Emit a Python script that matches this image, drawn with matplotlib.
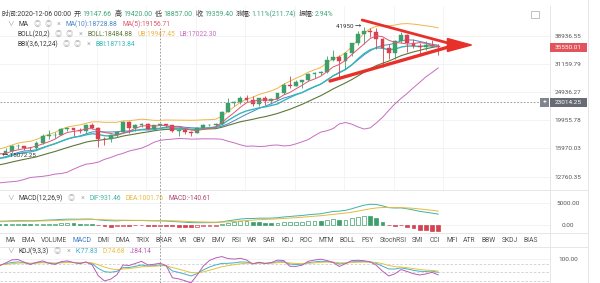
import numpy as np
import pandas as pd
import matplotlib
matplotlib.use('Agg')
import matplotlib.pyplot as plt
from matplotlib.patches import Rectangle, Polygon
from matplotlib.lines import Line2D
from matplotlib.transforms import IdentityTransform
from matplotlib.ticker import NullLocator, NullFormatter

FONTS = ['Roboto', 'Noto Sans CJK SC', 'DejaVu Sans']
plt.rcParams['font.family'] = FONTS

# BTC/USDT daily candles 2020-10-12 .. 2021-01-20
# (rows before 2020-11-10 are only there to warm up the indicators)
dates = pd.date_range('2020-10-12', '2021-01-20', freq='D')
opens = [11384, 11541, 11425, 11430, 11503, 11322, 11359, 11483, 11742, 11916,
         12823, 12965, 12931, 13108, 13031, 13068, 13654, 13272, 13455, 13560,
         13791, 13761, 13549, 14023, 14145, 15591, 15579, 14818, 15475, 15328,
         15297, 15701, 16276, 16317, 16069, 15957, 16713, 17659, 17777, 17802,
         18655, 18703, 18414, 18364, 19160, 18726.8, 17149, 17139, 17720, 18185.24,
         19696, 18765, 19204.5, 19422, 18650, 19147.66, 19359.4, 19167, 18325, 18541,
         18254, 18036, 18808, 19175, 19274, 19427, 21380, 22847, 23137, 23869,
         23477, 22748, 23824, 23253, 23715, 24693, 26443, 26247, 27036, 27376,
         28857, 28923, 29332, 32176, 33000, 31989, 33949, 36769, 39432, 40586,
         40088, 38150, 35410, 34050, 37372, 39141, 36733, 36012, 35548, 36250,
         36025]
highs = [11720, 11557, 11545, 11630, 11541, 11400, 11490, 11830, 12050, 13217,
         13185, 13027, 13166, 13350, 13248, 13789, 13859, 13640, 13695, 14100,
         13895, 13830, 14066, 14259, 15750, 15965, 15770, 15650, 15840, 15480,
         15965, 16340, 16480, 16317, 16146, 16895, 17858, 18476, 18179, 18815,
         18965, 18710, 18750, 19418, 19484, 18915, 17457, 17880, 18344, 19863,
         19888, 19342, 19566, 19527, 19177, 19420.0, 19420, 19294, 18640, 18557,
         18292, 18948, 19411, 19349, 19570, 21560, 23800, 23285, 24171, 24295,
         24102, 23837, 24100, 23789, 24789, 26867, 28422, 27500, 27411, 28999,
         29300, 29600, 33300, 34778, 33600, 34360, 36939, 40365, 41950, 41380,
         41350, 38264, 36628, 37850, 40100, 39700, 37950, 36852, 37469, 37850,
         36415]
lows = [11178, 11281, 11284, 11260, 11210, 11290, 11343, 11417, 11686, 11900,
        12689, 12720, 12885, 12888, 12765, 13050, 12920, 12990, 13120, 13425,
        13620, 13195, 13280, 13525, 14093, 15165, 14344, 14703, 14805, 15072.25,
        15272, 15440, 15952, 15715, 15793, 15870, 16531, 17214, 17335, 17740,
        18308, 17610, 18000, 18019, 18565, 16188, 16438, 16865, 17518, 18185,
        18001, 18331, 18925, 18565, 18500, 18857.0, 18902, 18200, 17650, 17911,
        17572, 18020, 18711, 19000, 19050, 19278, 21230, 22350, 22750, 23060,
        22400, 22353, 22600, 22703, 23433, 24500, 25856, 26101, 25880, 27320,
        27850, 28624, 28946, 31962, 28130, 29900, 33288, 36300, 36500, 38720,
        35111, 30420, 32531, 32380, 36701, 34408, 35357, 33850, 34800, 35844,
        33400]
closes = [11541, 11425, 11430, 11503, 11322, 11359, 11483, 11742, 11916, 12823,
          12965, 12931, 13108, 13031, 13068, 13654, 13272, 13455, 13560, 13791,
          13761, 13549, 14023, 14145, 15591, 15579, 14818, 15475, 15328, 15297,
          15701, 16276, 16317, 16069, 15957, 16713, 17659, 17776, 17802, 18655,
          18703, 18414, 18364, 19160, 18726.8, 17149, 17139, 17720, 18185.24, 19696,
          18765, 19204.5, 19422, 18650, 19147.66, 19359.40, 19167, 18325, 18541, 18254,
          18036, 18808, 19175, 19274, 19427, 21380, 22847, 23137, 23869, 23477,
          22748, 23824, 23253, 23715, 24693, 26443, 26247, 27036, 27376, 28857,
          28923, 29332, 32178, 33000, 31988, 33949, 36769, 39432, 40582, 40088,
          38150, 35404, 34051, 37371, 39144, 36742, 36013, 35547, 36248, 36026,
          35550.01]

first_shown = pd.Timestamp('2020-11-10')
cursor_day = pd.Timestamp('2020-12-06')
cursor_price = 23014.25
last_price = 35550.01

price_ticks = [38936.55, 31159.79, 24936.27, 19955.78, 15970.03, 12760.35]
macd_ticks = [5000, 0]
kdj_ticks = [100]
kdj_levels = [80, 50, 20]

tab_names = ['MA', 'EMA', 'VOLUME', 'MACD', 'DMI', 'DMA', 'TRIX', 'BRAR', 'VR',
             'OBV', 'EMV', 'RSI', 'WR', 'SAR', 'KDJ', 'ROC', 'MTM', 'BOLL', 'PSY',
             'StochRSI', 'SMI', 'CCI', 'MFI', 'ATR', 'BBW', 'SKDJ', 'BIAS']

df = pd.DataFrame({'open': opens, 'high': highs, 'low': lows, 'close': closes}, index=dates)
c = df['close']

# indicators
ma5 = c.rolling(5).mean()
ma10 = c.rolling(10).mean()
boll = c.rolling(20).mean()
sd = c.rolling(20).std(ddof=0)
ub = boll + 2 * sd
lb = boll - 2 * sd
bbi = (c.rolling(3).mean() + c.rolling(6).mean() + c.rolling(12).mean() + c.rolling(24).mean()) / 4
dif = c.ewm(span=12, adjust=False).mean() - c.ewm(span=26, adjust=False).mean()
dea = dif.ewm(span=9, adjust=False).mean()
hist = 2 * (dif - dea)
lo9 = df['low'].rolling(9, min_periods=1).min()
hi9 = df['high'].rolling(9, min_periods=1).max()
rsv = (c - lo9) / (hi9 - lo9) * 100
k_vals, d_vals = [], []
kp = dp = 50.0
for r in rsv:
    kp = (2 * kp + r) / 3
    dp = (2 * dp + kp) / 3
    k_vals.append(kp)
    d_vals.append(dp)
k_line = np.array(k_vals)
d_line = np.array(d_vals)
j_line = 3 * k_line - 2 * d_line

# colours
UP, DOWN = '#3d9f6c', '#d6414f'
DARK, ICON = '#3a3a3a', '#b0b0b0'
MA5_C, MA10_C = '#e0566e', '#4a86c8'
BOLL_C, UB_C, LB_C, BBI_C = '#5d7838', '#f0b548', '#c66dc0', '#35b7b9'
DIF_C, DEA_C, MACD_C = '#3db5a6', '#e6b93e', '#b04a70'
K_C, D_C, J_C = '#3fb0c8', '#e7c13f', '#b95bb5'
SEP = '#e6e6e6'

W, H = 600, 283
fig = plt.figure(figsize=(6, 2.83), dpi=100)
fig.patch.set_facecolor('white')


def box(x0, y0, x1, y1):
    return [x0 / W, 1 - y1 / H, (x1 - x0) / W, (y1 - y0) / H]


ax = fig.add_axes(box(0, 6, 550, 190))
ax_macd = fig.add_axes(box(0, 190, 550, 233))
ax_kdj = fig.add_axes(box(0, 247, 550, 283))

g = np.arange(len(df))
i0 = df.index.get_loc(first_shown)
i_cur = df.index.get_loc(cursor_day)
xlim = (i0 + 0.1, i0 + 89.1)


def right_axis(a, ticks, labels):
    a.set_yticks(ticks)
    a.set_yticklabels(labels)
    a.yaxis.set_minor_locator(NullLocator())
    a.yaxis.set_minor_formatter(NullFormatter())
    a.yaxis.tick_right()
    a.tick_params(axis='y', length=0, pad=13, labelsize=4.6, labelcolor='#555555')
    for t in a.get_yticklabels():
        t.set_horizontalalignment('center')
    a.set_xticks([])
    a.set_xlim(*xlim)
    a.grid(axis='y', color='#f1f1f1', lw=0.6)
    a.set_axisbelow(True)
    for s in a.spines.values():
        s.set_visible(False)


# main price panel
ax.set_yscale('log')
ax.set_ylim(11480, 49400)
right_axis(ax, price_ticks, [f'{v:.2f}' for v in price_ticks])
for xv in np.arange(100.8, i0, -8):
    ax.axvline(xv, color='#f3f3f3', lw=0.6, zorder=0)

vis = df.iloc[i0:]
gx = g[i0:]
colors = np.where(vis['close'] >= vis['open'], UP, DOWN)
ax.vlines(gx, vis['low'], vis['high'], colors=colors, lw=0.6, zorder=3)
ax.bar(gx, (vis['close'] - vis['open']).abs(), bottom=np.minimum(vis['open'], vis['close']),
       width=0.62, color=colors, edgecolor=colors, lw=0.3, zorder=4)

ax.plot(g, lb, color=LB_C, lw=0.7, zorder=2)
ax.plot(g, ub, color=UB_C, lw=0.7, zorder=2)
ax.plot(g, boll, color=BOLL_C, lw=0.8, zorder=2)
ax.plot(g, ma10, color=MA10_C, lw=0.7, zorder=2)
ax.plot(g, bbi, color=BBI_C, lw=1.0, zorder=2)
ax.plot(g, ma5, color=MA5_C, lw=0.7, zorder=5)

# high / low markers
i_hi = vis['high'].values.argmax() + i0
i_lo = vis['low'].values.argmin() + i0
ax.text(i_hi - 0.5, highs[i_hi], f'{highs[i_hi]:.0f} \u2192', ha='right', va='center',
        fontsize=4.5, color='#333333', zorder=6)
ax.text(i_lo + 0.35, lows[i_lo], f'\u2190 {lows[i_lo]:.2f}', ha='left', va='center',
        fontsize=4.5, color='#333333', zorder=6)

# hand-drawn triangle with arrow head
ARROW_RED = '#e8302a'
ax.plot([87.7, 101.9], [44204, 36690], color=ARROW_RED, lw=2.0, solid_capstyle='round', zorder=7)
ax.plot([82.5, 101.9], [27250, 35800], color=ARROW_RED, lw=2.4, solid_capstyle='round', zorder=7)
ax.add_patch(Polygon([(101.5, 38173), (105.4, 36254), (101.5, 34432)], closed=True,
                     color=ARROW_RED, zorder=7))

# cursor lines
ax.axhline(cursor_price, xmax=541 / 550, color='#8c8c8c', lw=0.6, ls=(0, (2, 2)), zorder=6)

# MACD panel
ax_macd.set_ylim(-1794, 7847)
right_axis(ax_macd, macd_ticks, [f'{v:.2f}' for v in macd_ticks])
hv = hist.values
prev = np.concatenate([[hv[0]], hv[:-1]])
for xi in range(i0, len(df)):
    v = hv[xi]
    col = UP if v >= 0 else DOWN
    face = 'white' if v >= prev[xi] else col
    ax_macd.bar(xi, v, width=0.62, facecolor=face, edgecolor=col, lw=0.5, zorder=3)
ax_macd.plot(g, dif, color=DIF_C, lw=0.7, zorder=4)
ax_macd.plot(g, dea, color=DEA_C, lw=0.7, zorder=4)

# KDJ panel
ax_kdj.set_ylim(11.1, 144.4)
right_axis(ax_kdj, kdj_ticks, [f'{v:.2f}' for v in kdj_ticks])
for lv in kdj_levels:
    ax_kdj.axhline(lv, color='#cfcfcf', lw=0.6, ls=(0, (3, 2)), zorder=1)
ax_kdj.plot(g, k_line, color=K_C, lw=0.7, zorder=3)
ax_kdj.plot(g, d_line, color=D_C, lw=0.7, zorder=3)
ax_kdj.plot(g, j_line, color=J_C, lw=0.7, zorder=3)

# panel separators
for (x0, y0, x1, y1) in [(550, 6, 550, 283), (588, 0, 588, 283), (0, 190, 588, 190),
                         (0, 233, 588, 233), (0, 247, 588, 247)]:
    fig.add_artist(Line2D([x0, x1], [H - y0, H - y1], transform=IdentityTransform(),
                          color=SEP, lw=0.7))

# vertical cursor through every panel
xc = ax.transData.transform((i_cur, 20000))[0]
fig.add_artist(Line2D([xc, xc], [0, H - 28], transform=IdentityTransform(),
                      color='#8c8c8c', lw=0.6, ls=(0, (2, 2)), zorder=10))


def value_box(price, text, face, x0=550, x1=587, h=9.5):
    yc = ax.transData.transform((i0, price))[1]
    fig.add_artist(Rectangle((x0, yc - h / 2), x1 - x0, h, transform=IdentityTransform(),
                             facecolor=face, edgecolor='none', zorder=11))
    fig.text((x0 + x1) / 2, yc, text, transform=IdentityTransform(), ha='center', va='center',
             fontsize=4.6, color='white', zorder=12)
    return yc


value_box(last_price, f'{last_price:.2f}', '#e2535c')
yc = value_box(cursor_price, f'{cursor_price:.2f}', '#676b73')
fig.add_artist(Rectangle((540, yc - 4.75), 9, 9.5, transform=IdentityTransform(),
                         facecolor='#80848c', edgecolor='none', zorder=11))
fig.text(544.5, yc, '+', transform=IdentityTransform(), ha='center', va='center',
         fontsize=5, color='white', zorder=12)

# small screen icon, top right of the price panel
fig.add_artist(Rectangle((531, H - 18), 8, 7, transform=IdentityTransform(), facecolor='none',
                         edgecolor='#b8b8b8', lw=0.6))

renderer = fig.canvas.get_renderer()


def text_row(x, y, parts, size=4.8):
    for part in parts:
        s, col, gap = part[:3]
        fs = part[3] if len(part) > 3 else size
        t = fig.text(x, H - y, s, color=col, fontsize=fs, va='center', ha='left',
                     transform=IdentityTransform(), zorder=9)
        x = t.get_window_extent(renderer).x1 + gap


def controls(n_eyes):
    # eye / settings / close icons that sit after each indicator name
    parts = [('\u25ce', ICON, 4, 5.2) for _ in range(n_eyes)]
    parts[-1] = ('\u25ce', ICON, 5, 5.2)
    return parts + [('\u00d7', ICON, 5, 5.2)]


GREEN = '#3fa57a'
row = df.loc[cursor_day]
chg = row['close'] - row['open']
text_row(2, 14.3, [
    ('时间:' + cursor_day.strftime('%Y-%m-%d %H:%M'), DARK, 3),
    ('开:', DARK, 0), (f"{row['open']:.2f}", GREEN, 3),
    ('高:', DARK, 0), (f"{row['high']:.2f}", GREEN, 3),
    ('低:', DARK, 0), (f"{row['low']:.2f}", GREEN, 3),
    ('收:', DARK, 0), (f"{row['close']:.2f}", GREEN, 3),
    ('涨幅:', DARK, 0), (f"{chg / row['open'] * 100:.2f}%({chg:.2f})", GREEN, 3),
    ('振幅:', DARK, 0), (f"{(row['high'] - row['low']) / row['open'] * 100:.2f}%", GREEN, 0),
], size=4.95)
text_row(7, 24.3, [('\u2228', '#999999', 5), ('MA', DARK, 5)] + controls(2) +
         [('MA(10):18728.88', MA10_C, 5), ('MA(5):19156.71', MA5_C, 0)])
text_row(17, 34.3, [('BOLL(20,2)', DARK, 5)] + controls(2) +
         [('BOLL:18484.88', BOLL_C, 5), ('UB:19947.45', UB_C, 5), ('LB:17022.30', LB_C, 0)])
text_row(17, 44.3, [('BBI(3,6,12,24)', DARK, 5)] + controls(2) +
         [('BBI:18713.84', BBI_C, 0)])
text_row(7, 198.3, [('\u2228', '#999999', 5), ('MACD(12,26,9)', DARK, 5)] + controls(1) +
         [('DIF:931.46', DIF_C, 5), ('DEA:1001.76', DEA_C, 5), ('MACD:-140.61', MACD_C, 0)])
text_row(7, 251.3, [('\u2228', '#999999', 5), ('KDJ(9,3,3)', DARK, 5)] + controls(1) +
         [('K:77.83', K_C, 5), ('D:74.68', D_C, 5), ('J:84.14', J_C, 0)])

# indicator tabs
text_row(5, 240.5, [(name, '#3a7bd5' if name == 'MACD' else '#555555', 5.8)
                    for name in tab_names], size=4.85)

fig.savefig('out.png', dpi=100, facecolor='white')
